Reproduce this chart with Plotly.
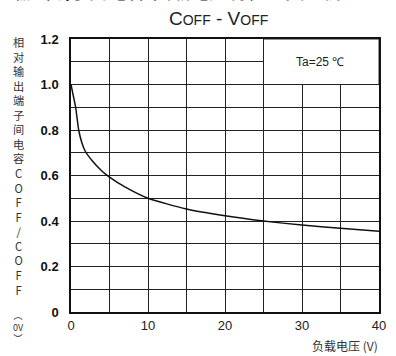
import plotly.graph_objects as go

# ---- data ----
voltage = [0, 0.3, 0.6, 1.0, 1.4, 1.8, 2.7, 4, 5, 7, 10, 15, 20, 25, 30, 35, 40]
capacitance = [1.0, 0.95, 0.9, 0.8, 0.745, 0.71, 0.667, 0.62, 0.593, 0.55, 0.5,
               0.453, 0.423, 0.400, 0.382, 0.368, 0.355]
x_ticks = [0, 10, 20, 30, 40]
x_ticklabels = ["0", "10", "20", "30", "40"]
y_ticks = [0, 0.2, 0.4, 0.6, 0.8, 1.0, 1.2]
y_ticklabels = ["0", "0.2", "0.4", "0.6", "0.8", "1.0", "1.2"]
y_title_chars = list("相对输出端子间电容") + list("COFF/COFF")
y_title_tail = ["︵", "0V", "︶"]
x_title = "负载电压 (V)"
note = "Ta=25 ℃"
top_caption = "输出端子间电容-负载电压特性（典型例）"

W, H = 396, 356
L, R, T, B = 71, 10, 39, 44
PW, PH = W - L - R, H - T - B


def px(x):
    return (x - L) / PW


def py(y):
    return (H - B - y) / PH


fig = go.Figure()
fig.add_trace(go.Scatter(x=voltage, y=capacitance, mode="lines",
                         line=dict(color="#111", width=1.5, shape="spline", smoothing=0.6),
                         hoverinfo="skip", showlegend=False))

# white box covering the grid for the Ta note
fig.add_shape(type="rect", x0=25, x1=40, y0=1.0, y1=1.2, xref="x", yref="y",
              fillcolor="white", line=dict(color="#222", width=1), layer="between")

ann = []
ann.append(dict(x=32.3, y=1.1, xref="x", yref="y", text=note, showarrow=False,
                font=dict(family="Liberation Sans", size=12, color="#222")))
ann.append(dict(x=px(222), y=py(31), xref="paper", yref="paper", xanchor="center", yanchor="bottom",
                text="C<span style='font-size:14px'>OFF</span> - V<span style='font-size:14px'>OFF</span>",
                showarrow=False, font=dict(family="Liberation Sans", size=19, color="#222")))
ann.append(dict(x=px(386), y=py(345), xref="paper", yref="paper", xanchor="right", yanchor="middle",
                text=x_title, showarrow=False, borderpad=0,
                font=dict(family="Noto Sans CJK SC", size=12, color="#333")))
ann.append(dict(x=px(10), y=py(6), xref="paper", yref="paper", xanchor="left", yanchor="bottom",
                text=top_caption, showarrow=False,
                font=dict(family="Noto Sans CJK SC", size=19, color="#222")))
n = len(y_title_chars)
ann.append(dict(x=px(17), y=py(42 + (n - 1) / 2 * 14.56), xref="paper", yref="paper",
                xanchor="center", yanchor="middle", text="<br>".join(y_title_chars),
                showarrow=False, borderpad=0,
                font=dict(family="Noto Sans CJK SC", size=11.2, color="#333")))
ann.append(dict(x=px(17), y=py(327), xref="paper", yref="paper", xanchor="center", yanchor="middle",
                text="<br>".join(y_title_tail), showarrow=False, borderpad=0,
                font=dict(family="Noto Sans CJK SC", size=9, color="#333")))

fig.update_layout(
    width=W, height=H, margin=dict(l=L, r=R, t=T, b=B),
    paper_bgcolor="white", plot_bgcolor="white",
    annotations=ann, showlegend=False,
    xaxis=dict(range=[0, 40], showgrid=True, gridcolor="#222", gridwidth=1,
               showline=True, linecolor="#111", linewidth=1.5, mirror=True,
               tickmode="array", tickvals=x_ticks, ticktext=x_ticklabels, ticks="",
               ticklabelstandoff=1, zeroline=False,
               minor=dict(dtick=5, tick0=0, showgrid=True, gridcolor="#222", gridwidth=1),
               tickfont=dict(family="Liberation Sans", size=13, color="#222")),
    yaxis=dict(range=[0, 1.2], showgrid=True, gridcolor="#222", gridwidth=1,
               showline=True, linecolor="#111", linewidth=1.5, mirror=True,
               tickmode="array", tickvals=y_ticks, ticktext=["<b>%s</b>" % t for t in y_ticklabels],
               ticks="", ticklabelstandoff=8, zeroline=False,
               minor=dict(dtick=0.1, showgrid=True, gridcolor="#222", gridwidth=1),
               tickfont=dict(family="Liberation Sans", size=13, color="#111")),
)
fig.write_html("out.html")
